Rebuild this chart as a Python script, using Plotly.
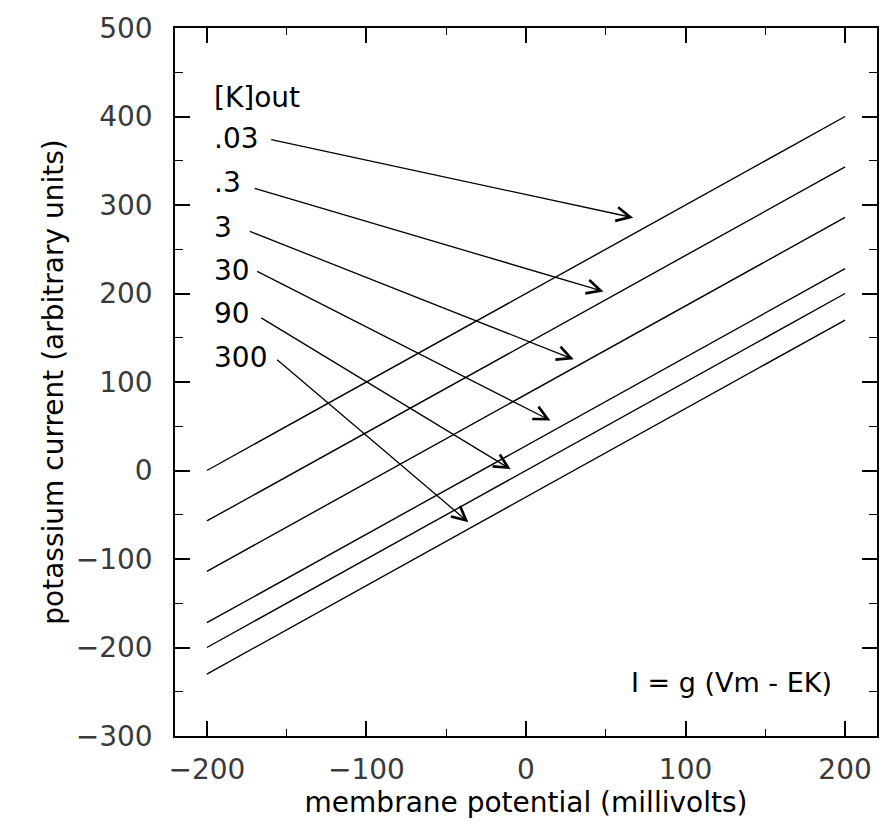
import plotly.graph_objects as go

# Data
vm = [-200, 200]
k_out_labels = [".03", ".3", "3", "30", "90", "300"]
currents = [
    [0, 400],
    [-57, 343],
    [-114, 286],
    [-172, 228],
    [-200, 200],
    [-230, 170],
]
# label positions (data coords) and arrow tips
label_y = [375, 325, 275, 226, 177, 128]
arrow_start_x = [-160.6, -171.0, -174.0, -169.4, -166.9, -156.9]
arrow_start_y = [374.3, 319.4, 270.8, 225.9, 173.5, 126.7]
arrow_end_x = [67.2, 48.6, 29.9, 15.3, -9.6, -36.1]
arrow_end_y = [285.7, 202.3, 125.6, 56.5, 1.5, -58.4]

FONT = "DejaVu Sans, Verdana, sans-serif"

fig = go.Figure()
for lab, cur in zip(k_out_labels, currents):
    fig.add_trace(go.Scatter(x=vm, y=cur, mode="lines", name=lab,
                             line=dict(color="black", width=1.4),
                             showlegend=False, hoverinfo="skip"))

annotations = []
annotations.append(dict(x=-197, y=422, xref="x", yref="y", text="[K]out",
                        showarrow=False, xanchor="left", yanchor="middle",
                        font=dict(family=FONT, size=28, color="black")))
for lab, ly in zip(k_out_labels, label_y):
    annotations.append(dict(x=-197, y=ly, xref="x", yref="y", text=lab,
                            showarrow=False, xanchor="left", yanchor="middle",
                            font=dict(family=FONT, size=28, color="black")))
for sx, sy, ex, ey in zip(arrow_start_x, arrow_start_y, arrow_end_x, arrow_end_y):
    annotations.append(dict(x=ex, y=ey, ax=sx, ay=sy, xref="x", yref="y",
                            axref="x", ayref="y", text="", showarrow=True,
                            arrowhead=5, arrowsize=2.1, arrowwidth=1.3,
                            arrowcolor="black", standoff=0, startstandoff=0))
annotations.append(dict(x=193, y=-239, xref="x", yref="y", text="I = g (Vm - EK)",
                        showarrow=False, xanchor="right", yanchor="middle",
                        font=dict(family=FONT, size=27, color="black")))

axis_common = dict(
    showgrid=False, zeroline=False, showline=True, linecolor="black",
    linewidth=1.6, mirror="ticks", ticks="inside", ticklen=15, tickwidth=1.5,
    tickcolor="black", tickfont=dict(family=FONT, size=28, color="#3a3a3a"),
)

fig.update_layout(
    width=895, height=826,
    margin=dict(l=175, r=18, t=24, b=90),
    paper_bgcolor="white", plot_bgcolor="white",
    annotations=annotations,
    xaxis=dict(range=[-220, 220], tickvals=[-200, -100, 0, 100, 200],
               ticktext=["\u2212200", "\u2212100", "0", "100", "200"],
               minor=dict(ticks="inside", ticklen=7, tickwidth=1.2,
                          tickcolor="black", tickvals=[-150, -50, 50, 150]),
               ticklabelstandoff=8,
               title=dict(text="membrane potential (millivolts)",
                          font=dict(family=FONT, size=28, color="black"),
                          standoff=4),
               **axis_common),
    yaxis=dict(range=[-300, 500],
               tickvals=[-300, -200, -100, 0, 100, 200, 300, 400, 500],
               ticktext=["\u2212300", "\u2212200", "\u2212100", "0", "100",
                         "200", "300", "400", "500"],
               minor=dict(ticks="inside", ticklen=8, tickwidth=1.2,
                          tickcolor="black",
                          tickvals=[-250, -150, -50, 50, 150, 250, 350, 450]),
               ticklabelstandoff=15,
               title=dict(text="potassium current (arbitrary units)",
                          font=dict(family=FONT, size=28, color="black"),
                          standoff=4),
               **axis_common),
)

fig.write_html("out.html")
